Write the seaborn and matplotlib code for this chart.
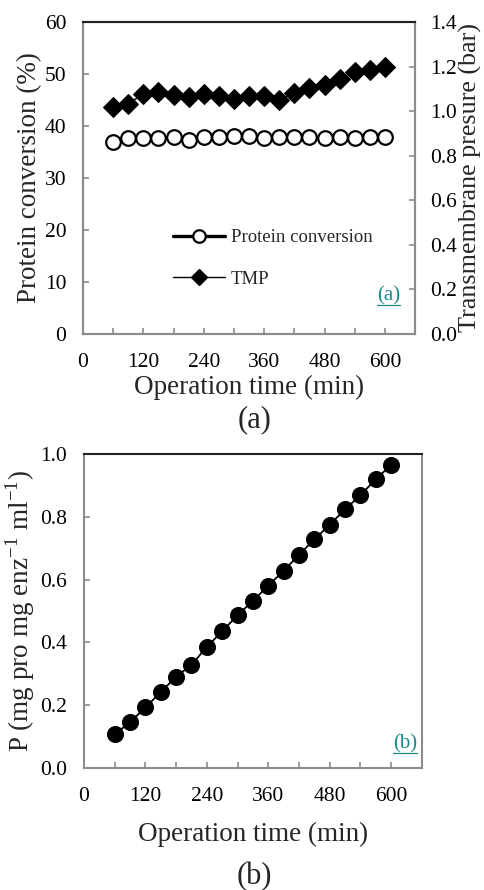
import matplotlib
matplotlib.use("Agg")
import matplotlib.pyplot as plt
import seaborn as sns
from matplotlib.lines import Line2D

# operation time (min)
time_min = [60, 90, 120, 150, 180, 210, 240, 270, 300, 330,
            360, 390, 420, 450, 480, 510, 540, 570, 600]
# panel (a)
protein_conv = [37.0, 37.7, 37.7, 37.7, 37.9, 37.4, 37.8, 37.8, 38.0, 38.0,
                37.7, 37.8, 37.8, 37.8, 37.7, 37.8, 37.7, 37.9, 37.8]
tmp_bar = [1.017, 1.032, 1.078, 1.084, 1.072, 1.065, 1.077, 1.066, 1.054, 1.068,
           1.066, 1.050, 1.080, 1.104, 1.117, 1.143, 1.175, 1.183, 1.198]
# panel (b)
productivity = [0.108, 0.145, 0.193, 0.241, 0.291, 0.328, 0.386, 0.435, 0.487, 0.532,
                0.581, 0.628, 0.679, 0.728, 0.775, 0.824, 0.869, 0.920, 0.965]

x_ticks = list(range(0, 601, 60))
x_labels = [str(t) if t % 120 == 0 else "" for t in x_ticks]

sns.set_theme(style="ticks")
plt.rcParams["font.family"] = ["Liberation Serif", "DejaVu Serif"]
plt.rcParams["mathtext.fontset"] = "custom"
plt.rcParams["mathtext.rm"] = "Liberation Serif"

TEAL = "#1b8a8c"
SPINE = "#8c8c8c"
TICK_FS = 15.5
LABEL_FS = 19.5

fig = plt.figure(figsize=(4.85, 8.9), dpi=100)
ax_a = fig.add_axes([0.171, 0.6247, 0.685, 0.3506])
ax_b = fig.add_axes([0.173, 0.1371, 0.697, 0.3528])


def style_spines(ax):
    for side in ["left", "right", "bottom"]:
        ax.spines[side].set_color(SPINE)
        ax.spines[side].set_linewidth(1.5)
    ax.spines["top"].set_color("#222222")
    ax.spines["top"].set_linewidth(1.5)
    ax.tick_params(direction="in", length=4, width=1.2, color=SPINE,
                   labelsize=TICK_FS, labelcolor="black")


def style_axes(ax):
    style_spines(ax)
    ax.tick_params(axis="x", pad=14)
    ax.tick_params(axis="y", pad=12)
    ax.set_xlim(0, 660)
    ax.set_xticks(x_ticks)
    ax.set_xticklabels(x_labels)


tags = []


def panel_tag(ax, text, x, y):
    t = ax.text(x, y, text, transform=ax.transAxes, ha="right",
                va="bottom", color=TEAL, fontsize=15)
    tags.append((ax, t))


# ---- panel (a)
sns.lineplot(x=time_min, y=protein_conv, ax=ax_a, color="black", lw=1.3,
             marker="o", markersize=10.5, markerfacecolor="white",
             markeredgecolor="black", markeredgewidth=1.6)
ax_a.set_ylim(0, 60)
ax_a.set_yticks(range(0, 61, 10))
style_axes(ax_a)
ax_a.set_xlabel("Operation time (min)", fontsize=LABEL_FS, labelpad=2)
ax_a.set_ylabel("Protein conversion (%)", fontsize=LABEL_FS, labelpad=2)

ax_a2 = ax_a.twinx()
sns.lineplot(x=time_min, y=tmp_bar, ax=ax_a2, color="black", lw=1.0,
             marker="D", markersize=10, markerfacecolor="black",
             markeredgecolor="black")
ax_a2.set_ylim(0, 1.4)
ax_a2.set_yticks([0.0, 0.2, 0.4, 0.6, 0.8, 1.0, 1.2, 1.4])
ax_a2.set_yticklabels([f"{v:.1f}" for v in ax_a2.get_yticks()])
style_spines(ax_a2)
ax_a2.tick_params(axis="y", pad=11)
ax_a2.set_ylabel("Transmembrane presure (bar)", fontsize=18.8)
ax_a2.yaxis.set_label_coords(1.132, 0.5)

handles = [
    Line2D([], [], color="black", lw=2.4, marker="o", markersize=9,
           markerfacecolor="white", markeredgewidth=1.6),
    Line2D([], [], color="black", lw=1.0, marker="D", markersize=8,
           markerfacecolor="black"),
]
ax_a.legend(handles, ["Protein conversion", "TMP"], loc="upper left",
            bbox_to_anchor=(0.22, 0.39), frameon=False, fontsize=13.5,
            handlelength=2.8, handletextpad=0.3, labelspacing=1.3)
panel_tag(ax_a, "(a)", 0.955, 0.09)
fig.text(0.525, 0.528, "(a)", ha="center", va="center", fontsize=22)

# ---- panel (b)
sns.lineplot(x=time_min, y=productivity, ax=ax_b, color="black", lw=1.3,
             marker="o", markersize=11.5, markerfacecolor="black",
             markeredgecolor="black")
ax_b.set_ylim(0, 1.0)
ax_b.set_yticks([0.0, 0.2, 0.4, 0.6, 0.8, 1.0])
ax_b.set_yticklabels([f"{v:.1f}" for v in ax_b.get_yticks()])
style_axes(ax_b)
ax_b.set_xlabel("Operation time (min)", fontsize=LABEL_FS, labelpad=11)
ax_b.set_ylabel(r"P (mg pro mg enz$^{\mathrm{-1}}$ ml$^{\mathrm{-1}}$)",
                fontsize=LABEL_FS, labelpad=2)
panel_tag(ax_b, "(b)", 0.985, 0.045)
fig.text(0.525, 0.0155, "(b)", ha="center", va="center", fontsize=22)

# underline the teal panel tags to match their text width
fig.canvas.draw()
renderer = fig.canvas.get_renderer()
for ax, t in tags:
    bb = t.get_window_extent(renderer).transformed(ax.transAxes.inverted())
    ax.add_line(Line2D([bb.x0, bb.x1], [bb.y0 + 0.004] * 2,
                       transform=ax.transAxes, color=TEAL, lw=0.9))

fig.savefig("out.png", dpi=100)
plt.close(fig)
